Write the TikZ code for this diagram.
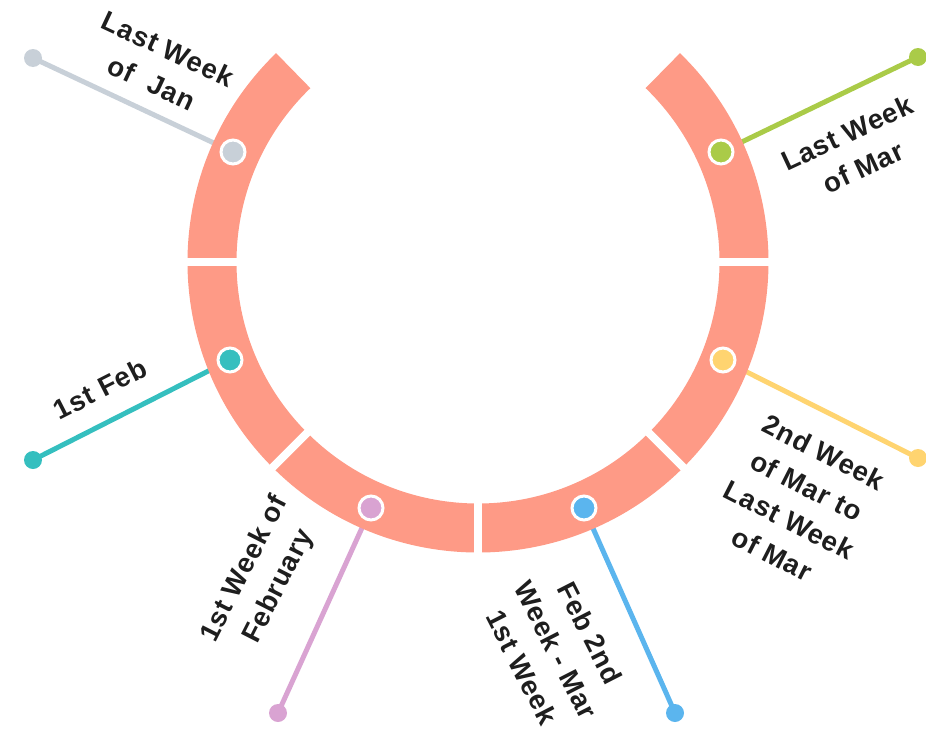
\documentclass[tikz,border=0pt]{standalone}
\usepackage{fontspec}
\setmainfont{Liberation Sans}
\newfontfamily\lblfont[LetterSpace=3]{Liberation Sans}
\definecolor{ringc}{HTML}{FE9A86}
\definecolor{cgray}{HTML}{C8D0D8}
\definecolor{cgreen}{HTML}{AACB48}
\definecolor{cteal}{HTML}{35BFBF}
\definecolor{cyellow}{HTML}{FFD470}
\definecolor{cpink}{HTML}{D9A3D2}
\definecolor{cblue}{HTML}{5BB5EE}
\definecolor{txt}{HTML}{1E1E1E}
\begin{document}
\begin{tikzpicture}[x=1pt,y=-1pt,
  lbl/.style={font=\lblfont\bfseries\fontsize{27.5}{38}\selectfont, text=txt, align=center, inner sep=0pt},
  marker/.style={circle, draw=white, line width=3pt, minimum size=24pt, inner sep=0pt},
  enddot/.style={circle, minimum size=18pt, inner sep=0pt},
  conn/.style={line width=5pt},
  gapline/.style={white, line width=8pt, line cap=round}]
\useasboundingbox (0,0) rectangle (926,728);
% marker positions on the ring
\coordinate (c1) at (233,152);
\coordinate (c2) at (230,360);
\coordinate (c3) at (371,508);
\coordinate (c4) at (584,508);
\coordinate (c5) at (723,360);
\coordinate (c6) at (721,152);
% end dots
\node[enddot, fill=cgray]   (e1) at (33,58) {};
\node[enddot, fill=cteal]   (e2) at (33,460) {};
\node[enddot, fill=cpink]   (e3) at (278,713) {};
\node[enddot, fill=cblue]   (e4) at (675,713) {};
\node[enddot, fill=cyellow] (e5) at (918,458) {};
\node[enddot, fill=cgreen]  (e6) at (918,57) {};
% connectors
\draw[conn, cgray]   (c1) -- (e1.center);
\draw[conn, cteal]   (c2) -- (e2.center);
\draw[conn, cpink]   (c3) -- (e3.center);
\draw[conn, cblue]   (c4) -- (e4.center);
\draw[conn, cyellow] (c5) -- (e5.center);
\draw[conn, cgreen]  (c6) -- (e6.center);
% ring
\begin{scope}[shift={(478,262)}, yscale=-1]
  \draw[ringc, line width=49pt] (134:266) arc[start angle=134, end angle=406, radius=266];
  \foreach \a in {180,225,270,315,360}
    \draw[gapline] (\a:241) -- (\a:292);
\end{scope}
% markers
\node[marker, fill=cgray]   (d1) at (c1) {};
\node[marker, fill=cteal]   (d2) at (c2) {};
\node[marker, fill=cpink]   (d3) at (c3) {};
\node[marker, fill=cblue]   (d4) at (c4) {};
\node[marker, fill=cyellow] (d5) at (c5) {};
\node[marker, fill=cgreen]  (d6) at (c6) {};
% labels
\node[lbl, rotate=-25] (t1) at (160,66) {Last Week\\of\ \ Jan};
\node[lbl, rotate=25]  (t6) at (855,150) {Last Week\\of Mar};
\node[lbl, rotate=27]  (t2) at (100,389) {1st Feb};
\node[lbl, rotate=-27] (t5) at (798,503) {2nd Week\\of Mar to\\Last Week\\of Mar};
\node[lbl, rotate=63]  (t3) at (262,578) {1st Week of\\February};
\node[lbl, rotate=-63] (t4) at (556,650) {Feb 2nd\\Week - Mar\\1st Week};
\end{tikzpicture}
\end{document}
